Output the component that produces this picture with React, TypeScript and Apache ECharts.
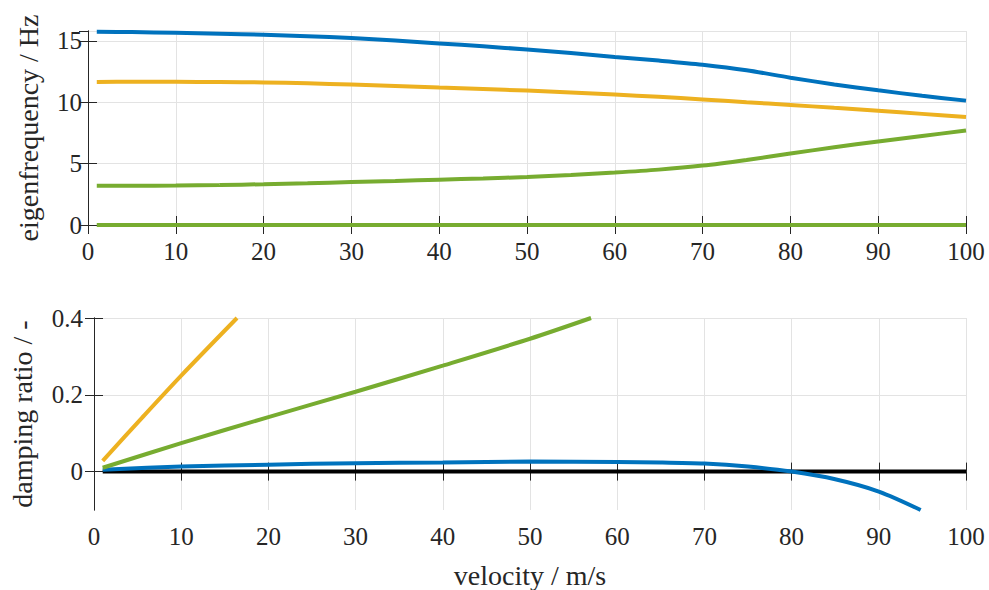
import React, { useEffect, useRef } from "react";
import * as echarts from "echarts";

// Top plot: eigenfrequency (Hz) vs velocity (m/s)
const velTop = [1, 5, 10, 15, 20, 25, 30, 35, 40, 45, 50, 55, 60, 65, 70, 75, 80, 85, 90, 95, 100];
const freqBlue = [15.73, 15.71, 15.66, 15.58, 15.49, 15.38, 15.22, 15.02, 14.79, 14.55, 14.29, 14.0, 13.69, 13.39, 13.05, 12.6, 12.0, 11.45, 10.97, 10.52, 10.13];
const freqOrange = [11.65, 11.66, 11.66, 11.64, 11.61, 11.54, 11.44, 11.32, 11.19, 11.07, 10.95, 10.79, 10.62, 10.44, 10.23, 10.0, 9.78, 9.54, 9.3, 9.05, 8.8];
const freqGreen = [3.2, 3.2, 3.22, 3.26, 3.32, 3.4, 3.5, 3.59, 3.69, 3.79, 3.91, 4.07, 4.27, 4.51, 4.84, 5.3, 5.82, 6.33, 6.8, 7.25, 7.69];
const freqZero = [0, 0, 0, 0, 0, 0, 0, 0, 0, 0, 0, 0, 0, 0, 0, 0, 0, 0, 0, 0, 0];

// Bottom plot: damping ratio vs velocity
const velDampOrange = [1, 5.5, 10, 16.4];
const dampOrange = [0.028, 0.14, 0.25, 0.4];
const velDampGreen = [1, 10, 20, 30, 40, 50, 57];
const dampGreen = [0.01, 0.074, 0.142, 0.208, 0.276, 0.346, 0.4];
const velDampBlue = [1, 10, 20, 30, 40, 50, 60, 65, 70, 75, 80, 85, 90, 94.8];
const dampBlue = [0.005, 0.013, 0.018, 0.022, 0.024, 0.026, 0.025, 0.024, 0.021, 0.013, 0.0, -0.02, -0.052, -0.1];
const velDampBlack = [1, 100];
const dampBlack = [0, 0];

const dampTicks = [0, 0.2, 0.4];

const BLUE = "#0072BD";
const ORANGE = "#EDB120";
const GREEN = "#77AC30";
const AXIS = "#262626";
const GRID = "#e3e3e3";
const FONT = "Liberation Serif, Times New Roman, DejaVu Serif, serif";
const TICK_FS = 25;
const NAME_FS = 28;

const zip = (xs: number[], ys: number[]) => xs.map((x, i) => [x, ys[i]]);

export default function App() {
  const ref = useRef<HTMLDivElement>(null);
  useEffect(() => {
    if (!ref.current) return;
    const chart = echarts.init(ref.current, undefined, { renderer: "svg" });

    const labelStyle = { color: AXIS, fontFamily: FONT, fontSize: TICK_FS };
    const nameStyle = { color: AXIS, fontFamily: FONT, fontSize: NAME_FS };
    const mkX = (gridIndex: number, position: "bottom" | "top", main: boolean, name?: string) => ({
      type: "value" as const,
      gridIndex,
      position,
      min: 0,
      max: 100,
      interval: 10,
      axisLine: { show: true, lineStyle: { color: AXIS, width: 1 } },
      axisTick: { show: true, inside: true, length: 9, lineStyle: { color: AXIS, width: 1 } },
      axisLabel: { show: main, ...labelStyle, margin: 14 },
      splitLine: { show: main, lineStyle: { color: GRID, width: 1 } },
      name: name,
      nameLocation: "middle" as const,
      nameGap: 51,
      nameTextStyle: nameStyle,
    });

    const axisBase = (gridIndex: number, position: "left" | "right", main: boolean, min: number, max: number) => ({
      type: "value" as const,
      gridIndex,
      position,
      min,
      max,
      axisLine: { show: true, lineStyle: { color: AXIS, width: 1 } },
      axisTick: { show: true, inside: true, length: 9, lineStyle: { color: AXIS, width: 1 } },
      splitLine: { show: main, lineStyle: { color: GRID, width: 1 } },
      nameLocation: "middle" as const,
      nameRotate: 90,
      nameTextStyle: nameStyle,
    });

    const topY = (position: "left" | "right", main: boolean) => ({
      ...axisBase(0, position, main, 0, 15.8),
      interval: 5,
      axisLabel: { show: main, ...labelStyle, margin: 6, formatter: (v: number) => (v > 15.8 ? "" : String(v)) },
      name: main ? "eigenfrequency / Hz" : undefined,
      nameGap: 46,
    });

    const botY = (position: "left" | "right", main: boolean) => {
      const b = axisBase(1, position, main, -0.1, 0.4);
      return {
        ...b,
        axisTick: { ...b.axisTick, customValues: dampTicks },
        axisLabel: {
          show: main,
          ...labelStyle,
          margin: 11,
          customValues: dampTicks,
          formatter: (v: number) => (Math.abs(v) < 1e-9 ? "0" : String(Math.round(v * 10) / 10)),
        },
        name: main ? "damping ratio / -" : undefined,
        nameGap: 58,
      };
    };

    const lineSeries = (xi: number, yi: number, data: number[][], color: string, z = 2) => ({
      type: "line" as const,
      xAxisIndex: xi,
      yAxisIndex: yi,
      data,
      showSymbol: false,
      symbol: "none",
      smooth: 0.3,
      clip: true,
      z,
      lineStyle: { color, width: 4 },
      itemStyle: { color },
    });

    chart.setOption({
      animation: false,
      backgroundColor: "#ffffff",
      textStyle: { fontFamily: FONT },
      grid: [
        { left: 88, width: 878, top: 31, height: 194, containLabel: false },
        { left: 88, width: 878, top: 318, height: 194, containLabel: false },
      ],
      xAxis: [
        mkX(0, "bottom", true),
        mkX(0, "top", false),
        mkX(1, "bottom", true, "velocity / m/s"),
        mkX(1, "top", false),
      ],
      yAxis: [topY("left", true), topY("right", false), botY("left", true), botY("right", false)],
      series: [
        lineSeries(0, 0, zip(velTop, freqBlue), BLUE),
        lineSeries(0, 0, zip(velTop, freqOrange), ORANGE),
        lineSeries(0, 0, zip(velTop, freqGreen), GREEN),
        lineSeries(0, 0, zip(velTop, freqZero), GREEN),
        lineSeries(2, 2, zip(velDampBlack, dampBlack), "#000000", 2),
        lineSeries(2, 2, zip(velDampBlue, dampBlue), BLUE, 3),
        lineSeries(2, 2, zip(velDampOrange, dampOrange), ORANGE, 3),
        lineSeries(2, 2, zip(velDampGreen, dampGreen), GREEN, 3),
      ],
    });
    return () => chart.dispose();
  }, []);
  return <div ref={ref} style={{ width: 989, height: 590, position: "absolute", left: 0, top: 0 }} />;
}
